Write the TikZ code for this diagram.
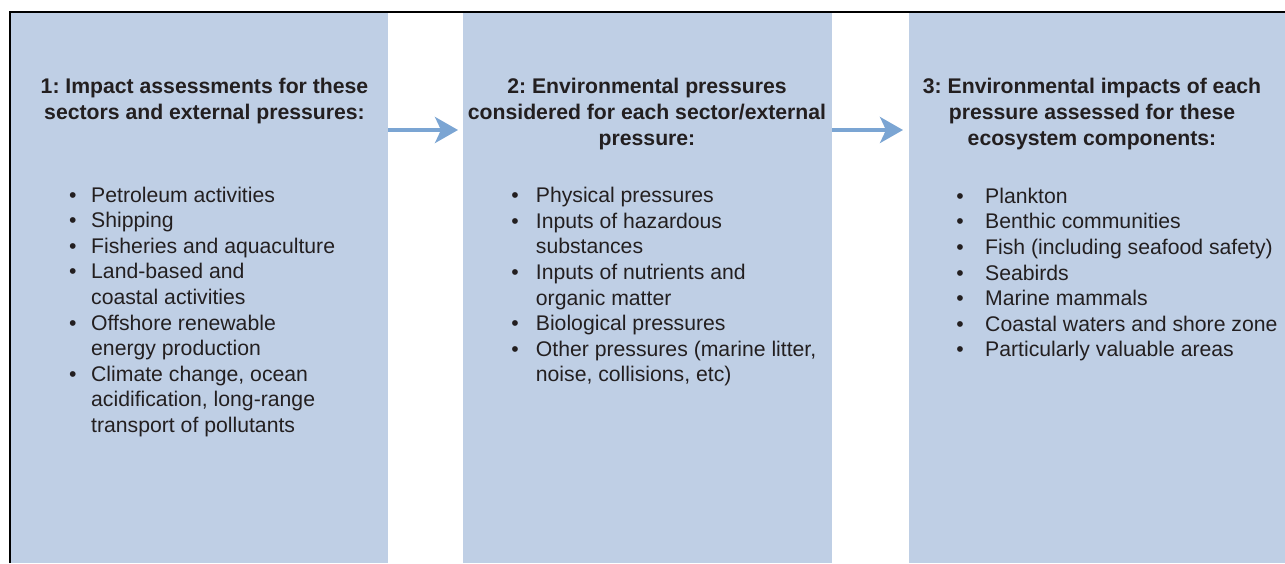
\documentclass[tikz,border=0pt]{standalone}
\usepackage{fontspec}
\setmainfont{Liberation Sans}
\usetikzlibrary{arrows.meta}
\definecolor{panelblue}{HTML}{BFCFE5}
\definecolor{arrowblue}{HTML}{7BA5D3}
\definecolor{inkgray}{HTML}{231F20}
\newlength{\bulgap}
\newcommand{\bitem}[1]{\llap{\textbullet\hspace{\bulgap}}#1}
\frenchspacing
\begin{document}
\begin{tikzpicture}[x=1pt,y=-1pt,
  panel/.style={fill=panelblue, draw=none, anchor=north west, inner sep=0pt, minimum height=550pt},
  headtext/.style={anchor=base, inner sep=0pt, text=inkgray, font=\fontsize{21.2}{26}\selectfont\bfseries},
  listtext/.style={anchor=base west, inner sep=0pt, text=inkgray, font=\fontsize{21.2}{25.6}\selectfont},
  flow/.style={draw=arrowblue, line width=3.5pt, -{Stealth[length=23pt,width=26pt,inset=6pt]}}]
\useasboundingbox (0,0) rectangle (1285,563);
\fill[white] (0,0) rectangle (1285,563);
% panels
\node[panel, minimum width=377pt] (box1) at (11,13) {};
\node[panel, minimum width=369pt] (box2) at (463,13) {};
\node[panel, minimum width=376pt] (box3) at (909,13) {};
% frame
\draw[line width=2pt, black] (10,563) -- (10,12) -- (1285,12);
% headings
\node[headtext] (h1) at (204.5,93) {\begin{tabular}[t]{@{}c@{}}1: Impact assessments for these\\sectors and external pressures:\end{tabular}};
\node[headtext] (h2) at (647,93) {\begin{tabular}[t]{@{}c@{}}2: Environmental pressures\\considered for each sector/external\\pressure:\end{tabular}};
\node[headtext] (h3) at (1092,93) {\begin{tabular}[t]{@{}c@{}}3: Environmental impacts of each\\pressure assessed for these\\ecosystem components:\end{tabular}};
% lists
\node[listtext] (l1) at (91,202) {\setlength{\bulgap}{14.6pt}\begin{tabular}[t]{@{}l@{}}
\bitem{Petroleum activities}\\
\bitem{Shipping}\\
\bitem{Fisheries and aquaculture}\\
\bitem{Land-based and}\\
coastal activities\\
\bitem{Offshore renewable}\\
energy production\\
\bitem{Climate change, ocean}\\
acidification, long-range\\
transport of pollutants
\end{tabular}};
\node[listtext] (l2) at (535.7,202.7) {\setlength{\bulgap}{17pt}\begin{tabular}[t]{@{}l@{}}
\bitem{Physical pressures}\\
\bitem{Inputs of hazardous}\\
substances\\
\bitem{Inputs of nutrients and}\\
organic matter\\
\bitem{Biological pressures}\\
\bitem{Other pressures (marine litter,}\\
noise, collisions, etc)
\end{tabular}};
\node[listtext] (l3) at (985,203.3) {\setlength{\bulgap}{21.3pt}\begin{tabular}[t]{@{}l@{}}
\bitem{Plankton}\\
\bitem{Benthic communities}\\
\bitem{Fish (including seafood safety)}\\
\bitem{Seabirds}\\
\bitem{Marine mammals}\\
\bitem{Coastal waters and shore zone}\\
\bitem{Particularly valuable areas}
\end{tabular}};
% arrows
\coordinate (ay) at (0,130);
\draw[flow, shorten >=5pt] (box1.east |- ay) -- (box2.west |- ay);
\draw[flow, shorten >=6pt] (box2.east |- ay) -- (box3.west |- ay);
\end{tikzpicture}
\end{document}
